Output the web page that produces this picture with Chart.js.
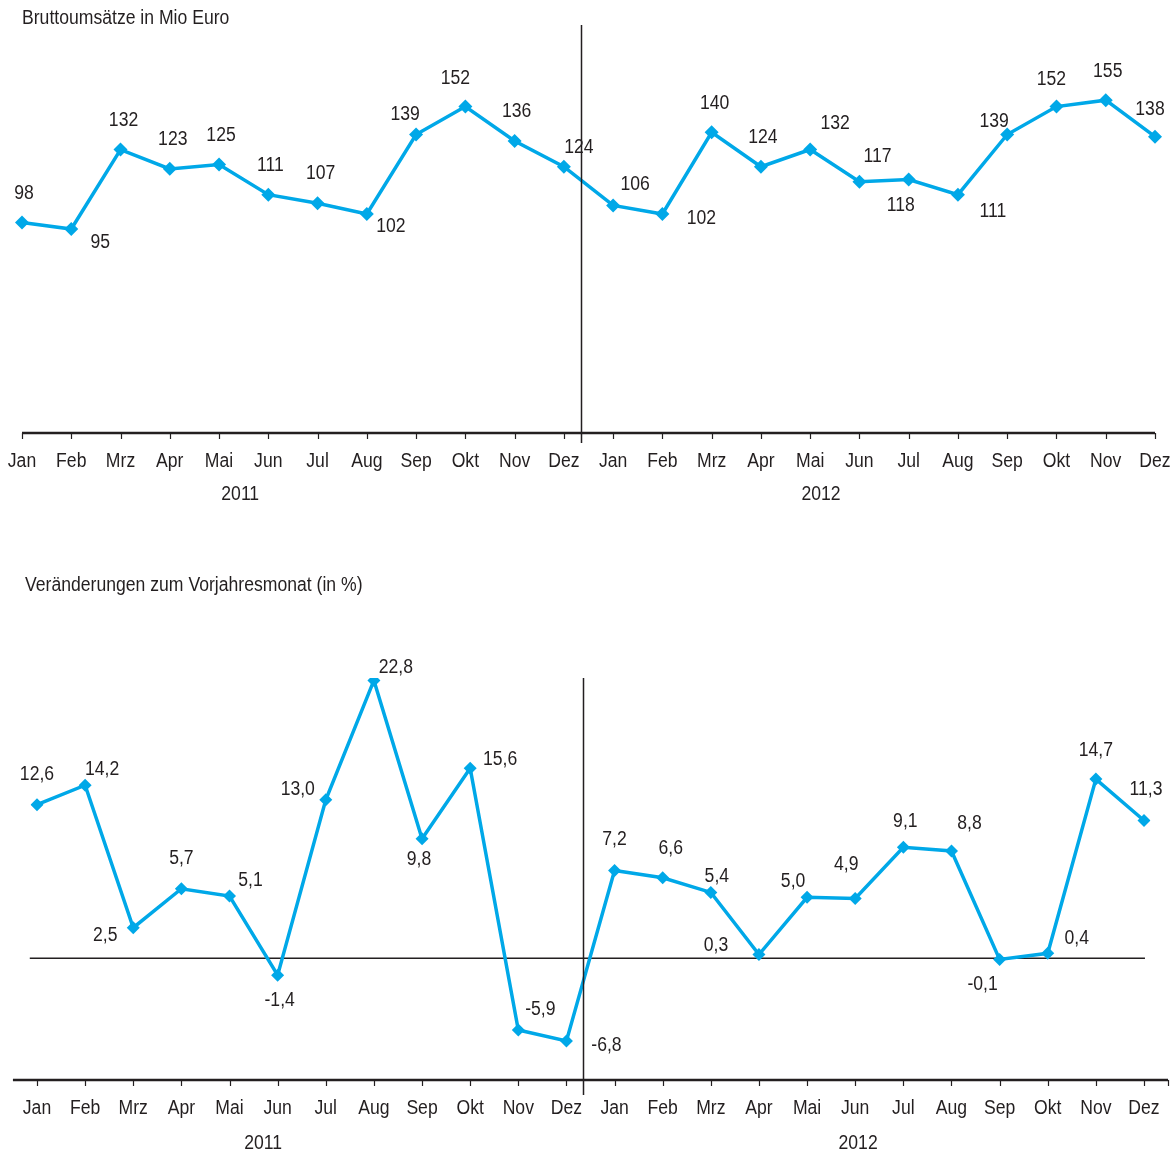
<!DOCTYPE html>
<html>
<head>
<meta charset="utf-8">
<script src="https://cdn.jsdelivr.net/npm/chart.js@4.4.1/dist/chart.umd.min.js"></script>
<style>
  body { margin: 0; background: #fff; }
  #top { position: absolute; left: 0; top: 0; width: 1172px; height: 520px; }
  #bottom { position: absolute; left: 0; top: 540px; width: 1172px; height: 615px; }
</style>
</head>
<body>
<div id="top"><canvas id="salesChart"></canvas></div>
<div id="bottom"><canvas id="changeChart"></canvas></div>
<script>
var months = ['Jan', 'Feb', 'Mrz', 'Apr', 'Mai', 'Jun', 'Jul', 'Aug', 'Sep', 'Okt', 'Nov', 'Dez'];
var years = ['2011', '2012'];
var sales = [98, 95, 132, 123, 125, 111, 107, 102, 139, 152, 136, 124,
             106, 102, 140, 124, 132, 117, 118, 111, 139, 152, 155, 138];
var change = [12.6, 14.2, 2.5, 5.7, 5.1, -1.4, 13.0, 22.8, 9.8, 15.6, -5.9, -6.8,
              7.2, 6.6, 5.4, 0.3, 5.0, 4.9, 9.1, 8.8, -0.1, 0.4, 14.7, 11.3];

// where each value label sits, relative to its point (dx, dy)
var salesLabelPos = [[2,-29],[29,13],[3,-29],[3,-29],[2,-29],[2,-29],[3,-30],[24,13],[-11,-20],[-10,-28],[2,-29],[15,-19],
                     [22,-21],[39,5],[3,-29],[2,-29],[25,-26],[18,-25],[-8,26],[35,17],[-13,-13],[-5,-27],[2,-29],[-5,-27]];
var changeLabelPos = [[0,-30],[17,-16],[-28,8],[0,-30],[21,-16],[2,25],[-28,-10],[22,-13],[-3,21],[30,-9],[22,-21],[40,4],
                      [0,-31],[8,-29],[6,-16],[-43,-9],[-14,-16],[-9,-34],[2,-26],[18,-27],[-17,25],[29,-15],[0,-29],[2,-31]];

var labels = [];
years.forEach(function (y) {
  months.forEach(function (m) { labels.push(m + ' ' + y); });
});

var FONT = '20px "Liberation Sans", Arial, sans-serif';
var SQUEEZE = 0.88; // fake a condensed face
var TEXT = '#231f20';
var BLUE = 'rgb(0, 168, 232)';

function drawText(ctx, txt, x, y, align) {
  ctx.save();
  ctx.translate(x, y);
  ctx.scale(SQUEEZE, 1);
  ctx.font = FONT;
  ctx.fillStyle = TEXT;
  ctx.textAlign = align || 'center';
  ctx.textBaseline = 'middle';
  ctx.fillText(txt, 0, 0);
  ctx.restore();
}

// draws axis, month/year labels, divider and value labels
function decorPlugin(cfg) {
  return {
    id: 'decor',
    beforeDatasetsDraw: function (chart) {
      var ctx = chart.ctx, x = chart.scales.x, y = chart.scales.y;
      var axisY = y.getPixelForValue(y.min);
      ctx.save();
      ctx.strokeStyle = TEXT;
      ctx.lineWidth = 2.5;
      ctx.beginPath();
      ctx.moveTo(x.getPixelForValue(cfg.axisFrom), axisY);
      ctx.lineTo(x.getPixelForValue(cfg.axisTo), axisY);
      ctx.stroke();
      ctx.lineWidth = 1.2;
      ctx.beginPath();
      var ticks = [];
      for (var i = 0; i < labels.length; i++) ticks.push(i);
      if (cfg.axisTo > labels.length - 1) ticks.push(cfg.axisTo);
      ticks.forEach(function (t) {
        var px = Math.round(x.getPixelForValue(t)) + 0.5;
        ctx.moveTo(px, axisY);
        ctx.lineTo(px, axisY + 6);
      });
      ctx.stroke();
      if (cfg.zeroLine) {
        var zy = y.getPixelForValue(0);
        ctx.lineWidth = 1.5;
        ctx.beginPath();
        ctx.moveTo(x.getPixelForValue(-0.15), zy);
        ctx.lineTo(x.getPixelForValue(23.02), zy);
        ctx.stroke();
      }
      ctx.restore();
      for (var j = 0; j < labels.length; j++) {
        drawText(ctx, months[j % 12], x.getPixelForValue(j), axisY + 28);
      }
      years.forEach(function (yr, k) {
        drawText(ctx, yr, x.getPixelForValue(cfg.yearAt[k]), axisY + cfg.yearGap);
      });
      drawText(ctx, cfg.title, cfg.titleX, cfg.titleY, 'left');
    },
    afterDraw: function (chart) {
      var ctx = chart.ctx, x = chart.scales.x, y = chart.scales.y;
      var axisY = y.getPixelForValue(y.min);
      var meta = chart.getDatasetMeta(0);
      meta.data.forEach(function (pt, i) {
        var v = cfg.values[i];
        var txt = cfg.decimals ? v.toFixed(1).replace('.', ',') : String(v);
        drawText(ctx, txt, pt.x + cfg.labelPos[i][0], pt.y + cfg.labelPos[i][1]);
      });
      // divider between the two years
      var sx = Math.round(x.getPixelForValue(11.35)) + 0.5;
      ctx.save();
      ctx.strokeStyle = TEXT;
      ctx.lineWidth = 1.5;
      ctx.beginPath();
      ctx.moveTo(sx, chart.chartArea.top);
      ctx.lineTo(sx, axisY + cfg.dividerBelow);
      ctx.stroke();
      ctx.restore();
    }
  };
}

var salesChart = document.getElementById('salesChart').getContext('2d');
new Chart(salesChart, {
  type: 'line',
  data: {
    labels: labels,
    datasets: [{
      data: sales,
      borderColor: BLUE,
      backgroundColor: BLUE,
      borderWidth: 3.5,
      pointStyle: 'rectRot',
      pointRadius: 7,
      pointBorderWidth: 0,
      tension: 0
    }]
  },
  options: {
    responsive: true,
    maintainAspectRatio: false,
    animation: false,
    layout: { padding: { left: 22, right: 17, top: 25, bottom: 87 } },
    plugins: { legend: { display: false }, tooltip: { enabled: false } },
    scales: {
      x: { display: false },
      y: { display: false, min: 0, max: 190 }
    }
  },
  plugins: [decorPlugin({
    values: sales, labelPos: salesLabelPos, decimals: false,
    axisFrom: 0, axisTo: 23, zeroLine: false,
    yearAt: [4.43, 16.22], yearGap: 61, dividerBelow: 10,
    title: 'Bruttoumsätze in Mio Euro', titleX: 22, titleY: 18
  })]
});

var changeChart = document.getElementById('changeChart').getContext('2d');
new Chart(changeChart, {
  type: 'line',
  data: {
    labels: labels,
    datasets: [{
      data: change,
      borderColor: BLUE,
      backgroundColor: BLUE,
      borderWidth: 3.5,
      pointStyle: 'rectRot',
      pointRadius: 6.5,
      pointBorderWidth: 0,
      tension: 0
    }]
  },
  options: {
    responsive: true,
    maintainAspectRatio: false,
    animation: false,
    layout: { padding: { left: 37, right: 28, top: 138, bottom: 75 } },
    plugins: { legend: { display: false }, tooltip: { enabled: false } },
    scales: {
      x: { display: false },
      y: { display: false, min: -10, max: 23 }
    }
  },
  plugins: [decorPlugin({
    values: change, labelPos: changeLabelPos, decimals: true,
    axisFrom: -0.5, axisTo: 23.5, zeroLine: true,
    yearAt: [4.7, 17.06], yearGap: 63, dividerBelow: 15,
    title: 'Veränderungen zum Vorjahresmonat (in %)', titleX: 25, titleY: 45
  })]
});
</script>
</body>
</html>
